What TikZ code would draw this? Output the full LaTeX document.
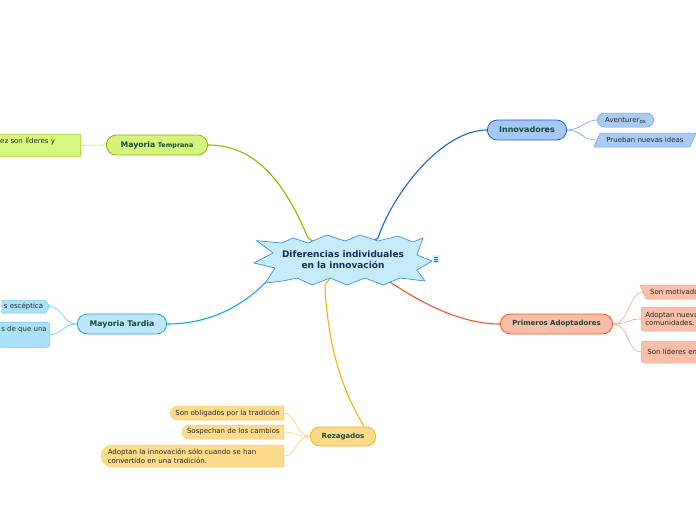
\documentclass[tikz,border=0pt]{standalone}
\usepackage{fontspec}
\setmainfont{DejaVu Sans}
\usepackage{tikz}
\usepackage{xcolor}
\usetikzlibrary{shapes.misc,shapes.symbols}
\definecolor{hubfill}{HTML}{C6EBFB}
\definecolor{hubline}{HTML}{3D93D3}
\definecolor{hubtext}{HTML}{1B2A5C}
\definecolor{titlegreen}{HTML}{154B3A}
\definecolor{leafgray}{HTML}{262626}
\definecolor{innoline}{HTML}{1C5FCB}
\definecolor{innofill}{HTML}{A6C8F5}
\definecolor{innoleaf}{HTML}{A9CCF6}
\definecolor{innotwig}{HTML}{6FA2E8}
\definecolor{primline}{HTML}{F0582A}
\definecolor{primfill}{HTML}{F8BCA8}
\definecolor{primleaf}{HTML}{F9BFAA}
\definecolor{primtwig}{HTML}{F5A389}
\definecolor{rezline}{HTML}{F9B200}
\definecolor{rezfill}{HTML}{FFD98A}
\definecolor{rezleaf}{HTML}{FFDB8D}
\definecolor{reztwig}{HTML}{FCCB62}
\definecolor{tardline}{HTML}{14A4E0}
\definecolor{tardfill}{HTML}{BEE7FA}
\definecolor{tardleaf}{HTML}{AAE1F9}
\definecolor{tardtwig}{HTML}{6CC7EF}
\definecolor{templine}{HTML}{86BA00}
\definecolor{tempfill}{HTML}{D5F47B}
\definecolor{templeaf}{HTML}{D7F87E}
\definecolor{temptwig}{HTML}{B7E24A}

\begin{document}
\begin{tikzpicture}[x=1pt, y=-1pt,
  every node/.style={font=\fontsize{7}{8.6}\selectfont, text=leafgray},
  topic/.style={rounded rectangle, draw, line width=0.8pt, minimum height=20pt, text=titlegreen},
  leaf/.style={rectangle, draw, line width=0.5pt, inner xsep=4pt, inner ysep=2pt},
  branch/.style={line width=1.1pt},
  twig/.style={line width=0.6pt}]
  \useasboundingbox (0,0) rectangle (696,520);
  \clip (0,0) rectangle (696,520);

  \coordinate (hub) at (343,261);

  % main topics
  \node[topic, fill=innofill, draw=innoline, minimum width=86pt, font=\fontsize{8}{9}\selectfont\bfseries] (inno) at (527,130) {Innovadores};
  \node[topic, fill=primfill, draw=primline, minimum width=119pt, font=\fontsize{7}{9}\selectfont\bfseries] (prim) at (556.5,324) {Primeros Adoptadores};
  \node[topic, fill=rezfill, draw=rezline, minimum width=72pt, minimum height=19pt, font=\fontsize{7}{9}\selectfont\bfseries] (rez) at (343,436.5) {Rezagados};
  \node[topic, fill=tardfill, draw=tardline, minimum width=96pt, font=\fontsize{7.8}{9}\selectfont\bfseries] (tard) at (122,324) {Mayoria Tardia};
  \node[topic, fill=tempfill, draw=templine, minimum width=108pt, font=\fontsize{7.7}{9}\selectfont\bfseries] (temp) at (157,145) {Mayoria {\fontsize{6.4}{9}\selectfont Temprana}};

  \draw[branch, innoline] (hub) -- ++(35,-23) .. controls +(15,-45) and +(-45,0) .. (inno.west);
  \draw[branch, primline] (hub) -- ++(47,21) .. controls +(30,20) and +(-40,0) .. (prim.west);
  \draw[branch, rezline] (hub) -- ++(-18,24) .. controls +(3,70) and +(-18,-30) .. (rez.25);
  \draw[branch, tardline] (hub) -- ++(-78,22) .. controls +(-25,25) and +(40,0) .. (tard.east);
  \draw[branch, templine] (hub) -- ++(-35,-23) .. controls +(-25,-60) and +(45,0) .. (temp.east);

  % central burst
  \draw[fill=hubfill, draw=hubline, line width=0.7pt] (256.7,240.7) -- (281.7,243) -- (293,238) -- (308,243) -- (327,235) -- (345,241) -- (360,235) -- (378,241) -- (398,236) -- (413,242) -- (423,238) -- (417,255) -- (432,261) -- (417,270) -- (425,281) -- (400,278) -- (383,285) -- (365,278) -- (347,285) -- (330,278) -- (312,285) -- (297,278) -- (283,281) -- (265,283) -- (275,268) -- (254,263) -- (273,253) -- cycle;
  \node[font=\fontsize{9}{11}\selectfont\bfseries, text=hubtext, align=center] (title) at (343,260) {Diferencias individuales\\en la innovación};
  \node[fill=hubfill!80, rounded corners=1pt, minimum size=8pt, inner sep=0pt] (menu) at (436,259) {};
  \foreach \dy in {-2,0,2}
    \draw[hubtext!80, line width=0.6pt] (menu) ++(-2,\dy) -- ++(4,0);

  % Innovadores
  \node[rounded rectangle, draw=innotwig, fill=innoleaf, line width=0.5pt, minimum width=63pt, minimum height=14pt, inner ysep=1pt] (aven) at (625.5,120) {Aventurer\raisebox{-1pt}{\fontsize{5.6}{6}\selectfont os}};
  \draw[draw=innotwig, fill=innoleaf, line width=0.5pt] (594,147) -- (600,133) -- (696,133) -- (690,147) -- cycle;
  \node[inner xsep=2pt] (prue) at (645,140) {Prueban nuevas ideas};
  \draw[twig, innotwig] (inno.east) .. controls +(14,0) and +(-12,0) .. (aven.west);
  \draw[twig, innotwig] (inno.east) .. controls +(14,0) and +(-14,0) .. ([xshift=-8pt]prue.west);

  % Primeros Adoptadores
  \draw[draw=primtwig, fill=primleaf, line width=0.5pt] (640,285) -- (700,285) -- (700,299) -- (646,299) -- cycle;
  \node[inner xsep=0pt, anchor=west] (mot) at (650,292) {Son motivado};
  \node[leaf, draw=primtwig, fill=primleaf, rounded corners=2pt, minimum height=24pt, align=left, anchor=west] (adop) at (641,319) {Adoptan nueva\\comunidades.};
  \node[leaf, draw=primtwig, fill=primleaf, rounded corners=3pt, minimum height=22pt, minimum width=62pt, anchor=west] (lidr) at (641,352) {Son líderes en};
  \draw[twig, primtwig] (prim.east) .. controls +(16,0) and +(-14,0) .. ([xshift=-7pt]mot.west);
  \draw[twig, primtwig] (prim.east) .. controls +(16,0) and +(-14,0) .. (adop.west);
  \draw[twig, primtwig] (prim.east) .. controls +(16,0) and +(-14,0) .. (lidr.west);

  % Rezagados
  \node[leaf, rounded rectangle, rounded rectangle right arc=none, draw=reztwig, fill=rezleaf, minimum height=14pt, inner ysep=1pt, anchor=east] (obl) at (284,413) {Son obligados por la tradición};
  \node[leaf, rounded rectangle, rounded rectangle right arc=none, draw=reztwig, fill=rezleaf, minimum height=14pt, inner ysep=1pt, anchor=east] (sosp) at (284,432) {Sospechan de los cambios};
  \node[leaf, rounded rectangle, rounded rectangle right arc=none, draw=reztwig, fill=rezleaf, minimum height=22pt, text width=172pt, align=left, anchor=east] (late) at (284,456) {Adoptan la innovación sólo cuando se han\\convertido en una tradición.};
  \draw[twig, reztwig] (rez.west) .. controls +(-14,0) and +(12,0) .. (obl.east);
  \draw[twig, reztwig] (rez.west) .. controls +(-14,0) and +(12,0) .. (sosp.east);
  \draw[twig, reztwig] (rez.west) .. controls +(-14,0) and +(12,0) .. (late.east);

  % Mayoria Tardia
  \node[leaf, signal, signal to=east, signal pointer angle=110, draw=tardtwig, fill=tardleaf, minimum height=13pt, inner xsep=2pt, inner ysep=1pt, anchor=east] (esc) at (50,306.5) {s escéptica};
  \node[leaf, rounded corners=3pt, draw=tardtwig, fill=tardleaf, inner xsep=3pt, inner ysep=2.5pt, text height=7pt, text depth=13pt, anchor=north east] (sdq) at (50,322) {s de que una};
  \draw[twig, tardtwig] (tard.west) .. controls +(-14,0) and +(12,0) .. (esc.east);
  \draw[twig, tardtwig] (tard.west) .. controls +(-14,0) and +(12,0) .. (sdq.east);

  % Mayoria Temprana
  \node[leaf, draw=temptwig, fill=templeaf, text width=76pt, align=left, text height=7pt, text depth=11pt, anchor=north west] (ez) at (-4,134) {ez son líderes y};
  \draw[twig, temptwig] (temp.west) -- (ez.east);
\end{tikzpicture}
\end{document}
